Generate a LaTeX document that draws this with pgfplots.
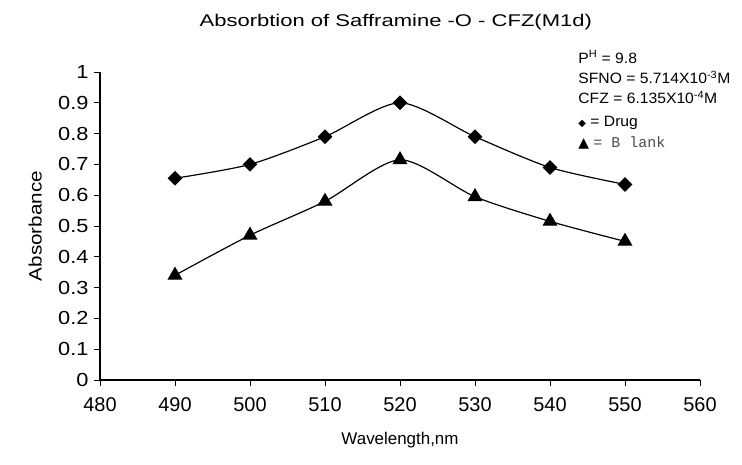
\documentclass[border=0pt]{standalone}
\usepackage{pgfplots}
\pgfplotsset{compat=1.18}
\usepackage{fontspec}
\setmainfont{Liberation Sans}
\newfontfamily\titlefont[FakeStretch=1.3]{Liberation Sans}
\newfontfamily\ytickfont[FakeStretch=1.15]{Liberation Sans}
\newfontfamily\notefont[FakeStretch=1.05]{Liberation Sans}
\newfontfamily\symfont{DejaVu Sans}
\newfontfamily\typefont{Liberation Mono}

\begin{document}
\begin{tikzpicture}
\useasboundingbox (-100bp,-85bp) rectangle (642bp,380bp);
\begin{axis}[
  at={(0,0)}, anchor=south west,
  scale only axis, width=600bp, height=308bp,
  xmin=480, xmax=560, ymin=0, ymax=1,
  xtick={480,490,500,510,520,530,540,550,560},
  ytick={0,0.1,0.2,0.3,0.4,0.5,0.6,0.7,0.8,0.9,1},
  axis x line=bottom, axis y line=left,
  axis line style={-, line width=1.2pt},
  tick align=outside, major tick length=6bp,
  tick style={black, line width=1pt},
  /pgf/number format/assume math mode=true,
  yticklabel style={/pgf/number format/fixed, font=\ytickfont\fontsize{19}{21}\selectfont, xshift=-2bp},
  xticklabel style={/pgf/number format/1000 sep={}, font=\fontsize{20}{22}\selectfont, yshift=-8bp},
  xlabel={Wavelength,nm},
  ylabel={Absorbance},
  xlabel style={font=\fontsize{17}{19}\selectfont, at={(axis description cs:0.5,-0.195)}, anchor=center},
  ylabel style={font=\ytickfont\fontsize{18}{20}\selectfont, at={(axis description cs:-0.108,0.5)}, anchor=center},
  clip=false,
]
% drug series
\addplot[black, line width=1.2pt, smooth, tension=0.45, mark=square*, mark size=4.6bp,
  mark options={solid, fill=black, rotate=45}]
  coordinates {(490,0.655) (500,0.70) (510,0.79) (520,0.90) (530,0.79) (540,0.69) (550,0.635)};
% blank series
\addplot[black, line width=1.2pt, smooth, tension=0.45, mark=triangle*, mark size=7.5bp,
  mark options={solid, fill=black}]
  coordinates {(490,0.34) (500,0.47) (510,0.58) (520,0.715) (530,0.595) (540,0.515) (550,0.45)};

\node[font=\titlefont\fontsize{17}{19}\selectfont] at (axis description cs:0.493,1.162)
  {Absorbtion of Safframine -O - CFZ(M1d)};

\node[anchor=north west, align=left, inner sep=0pt,
  font=\notefont\fontsize{15}{20.5}\selectfont] at (axis description cs:0.797,1.07)
  {P\textsuperscript{H} = 9.8\\
   SFNO = 5.714X10\textsuperscript{-3}M\\
   CFZ = 6.135X10\textsuperscript{-4}M\\[2bp]
   {\symfont\fontsize{10}{10}\selectfont ◆} = Drug\\[1bp]
   {\symfont\fontsize{14}{10}\selectfont ▲} {\typefont\fontsize{15}{18}\selectfont\color{black!70}= B lank}};
\end{axis}
\end{tikzpicture}
\end{document}
